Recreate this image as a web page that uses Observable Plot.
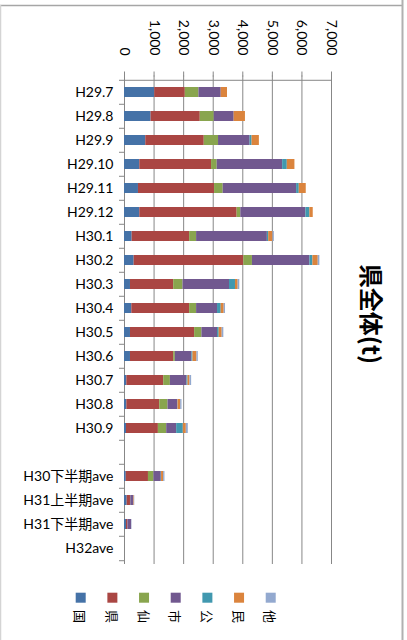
<!DOCTYPE html>
<html><head><meta charset="utf-8">
<script src="https://cdn.jsdelivr.net/npm/d3@7"></script>
<script src="https://cdn.jsdelivr.net/npm/@observablehq/plot@0.6"></script>
<style>
body{margin:0;background:#fff;}
#wrap{position:relative;width:407px;height:640px;overflow:hidden;background:#fff;}
#wrap svg{position:absolute;left:0;top:0;}
</style></head><body><div id="wrap"></div>
<script>
const categories = ["H29.7","H29.8","H29.9","H29.10","H29.11","H29.12","H30.1","H30.2","H30.3","H30.4","H30.5","H30.6","H30.7","H30.8","H30.9"," ","H30下半期ave","H31上半期ave","H31下半期ave","H32ave"];
const series = ["国","県","仙","市","公","民","他"];
const colors = ["#4572A7","#AA4643","#89A54E","#71588F","#4198AF","#DB843D","#93A9CF"];
const kuni = [1022, 899, 719, 517, 472, 517, 258, 326, 202, 247, 202, 202, 79, 79, 67, 0, 60, 90, 67, 0];
const ken  = [1034, 1663, 1978, 2427, 2573, 3292, 1944, 3708, 1461, 1955, 2169, 1461, 1247, 1112, 1079, 0, 750, 112, 50, 0];
const sen  = [461, 472, 483, 191, 292, 124, 236, 292, 315, 236, 247, 56, 225, 281, 281, 0, 185, 10, 0, 0];
const shi  = [753, 674, 1067, 2213, 2483, 2202, 2393, 1944, 1573, 708, 528, 562, 562, 326, 337, 0, 247, 100, 124, 0];
const kou  = [0, 0, 67, 157, 90, 135, 45, 101, 202, 124, 56, 34, 34, 11, 225, 0, 11, 0, 0, 0];
const min  = [213, 382, 247, 258, 236, 112, 146, 180, 90, 101, 101, 135, 67, 90, 101, 0, 70, 20, 0, 0];
const ta   = [0, 0, 0, 0, 0, 0, 45, 56, 56, 45, 56, 45, 56, 45, 67, 0, 45, 15, 11, 0];
const xTicks = [0, 1000, 2000, 3000, 4000, 5000, 6000, 7000];
const title = "県全体(t)";

const seriesValues = [kuni, ken, sen, shi, kou, min, ta];
const rows = [];
categories.forEach((c, i) => series.forEach((s, j) => rows.push({cat: c, series: s, value: seriesValues[j][i]})));

const W = 407, H = 640, mT = 75.5, mB = 76, mL = 124, mR = 76;
const step = (H - mT - mB) / categories.length;
const gray = "#878787";
const font = "Lato, 'Noto Sans CJK JP', sans-serif";

const chart = Plot.plot({
  width: W, height: H,
  marginTop: mT, marginBottom: mB, marginLeft: mL, marginRight: mR,
  style: {fontFamily: font, fontSize: "14px", color: "#000", background: "transparent", overflow: "visible"},
  x: {domain: [0, 7000], axis: null, label: null},
  y: {domain: categories, paddingInner: 0.59, paddingOuter: 0.295, axis: null, label: null},
  color: {domain: series, range: colors},
  marks: [
    Plot.gridX(xTicks, {stroke: gray, strokeOpacity: 1}),
    Plot.ruleY([categories[0]], {y: d => d, dy: -step / 2, stroke: gray}),
    Plot.axisX(xTicks, {anchor: "top", tickSize: 5, tickFormat: () => "", label: null, stroke: gray}),
    Plot.text(xTicks, {x: d => d, frameAnchor: "top", dy: -20.5, rotate: 90, textAnchor: "end", lineAnchor: "middle", text: d => d3.format(",")(d), fontSize: 14, fill: "#000"}),
    Plot.axisY({tickSize: 0, tickPadding: 11, label: null, fontSize: 14}),
    Plot.axisY(categories, {tickSize: 5, tickFormat: () => "", label: null, dy: -step / 2, stroke: gray}),
    Plot.axisY([categories[categories.length - 1]], {tickSize: 5, tickFormat: () => "", label: null, dy: step / 2, stroke: gray}),
    Plot.barX(rows, Plot.stackX({y: "cat", x: "value", fill: "series", order: null}))
  ]
});
const wrap = document.getElementById("wrap");
wrap.appendChild(chart);

// overlay: border, title, legend
const ov = d3.select(wrap).append("svg").attr("width", W).attr("height", H).style("pointer-events", "none");
ov.append("line").attr("x1", 0).attr("x2", 403).attr("y1", 5.5).attr("y2", 5.5).attr("stroke", "#a6a6a6").attr("stroke-width", 1.6);
ov.append("line").attr("x1", 0.5).attr("x2", 0.5).attr("y1", 5).attr("y2", H).attr("stroke", "#d4d4d4").attr("stroke-width", 1.5);
ov.append("line").attr("x1", 402.5).attr("x2", 402.5).attr("y1", 0).attr("y2", H).attr("stroke", "#b0b0b0").attr("stroke-width", 2);

ov.append("text").attr("transform", "translate(372,314) rotate(90)")
  .attr("text-anchor", "middle").attr("dominant-baseline", "central")
  .style("font-family", "'Noto Sans CJK JP', sans-serif").style("font-weight", "bold").style("font-size", "24px")
  .text(title);

const lg = ov.append("g");
series.forEach((s, i) => {
  const cx = 80.7 + 31.67 * i;
  lg.append("rect").attr("x", cx - 5).attr("y", 592.7).attr("width", 10).attr("height", 10).attr("fill", colors[i]);
  lg.append("text").attr("transform", `translate(${cx},616.5) rotate(90)`)
    .attr("text-anchor", "middle").attr("dominant-baseline", "central")
    .style("font-family", "'Noto Sans CJK JP', sans-serif").style("font-size", "13px")
    .text(s);
});
</script>
</body></html>
